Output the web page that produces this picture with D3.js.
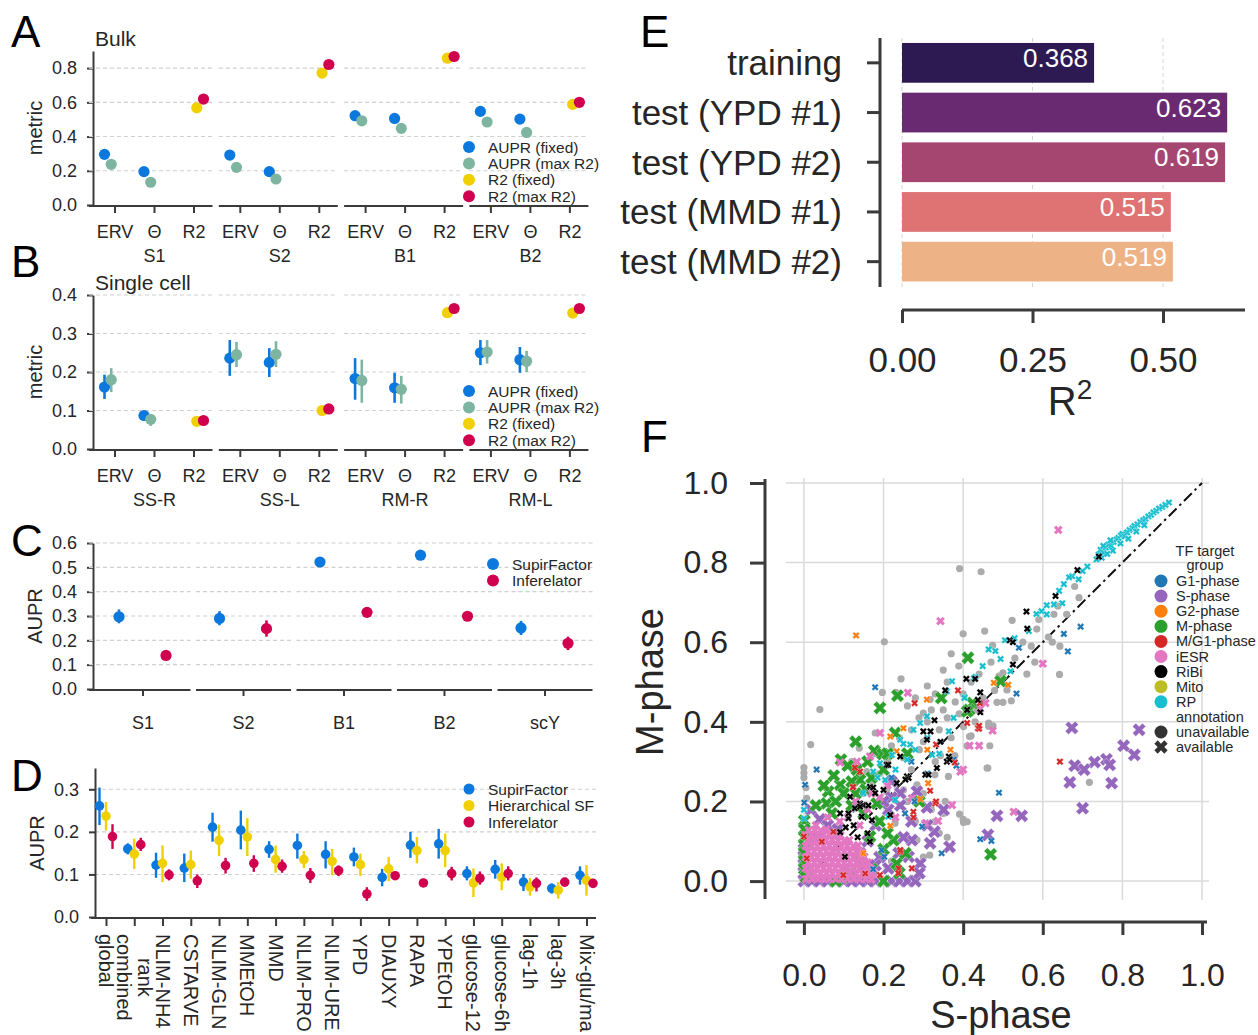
<!DOCTYPE html>
<html><head><meta charset="utf-8">
<script src="https://cdn.jsdelivr.net/npm/d3@7/dist/d3.min.js"></script>
<style>html,body{margin:0;padding:0;background:#fff;overflow:hidden}</style>
</head><body>
<svg id="fig" width="1258" height="1035" xmlns="http://www.w3.org/2000/svg"></svg>
<script>
// ================= DATA =================
// Panels A / B
const metricCats = ["ERV","Θ","R2"];
const metricHues = ["AUPR (fixed)","AUPR (max R2)","R2 (fixed)","R2 (max R2)"];
const metricColors = ["#0a78dc","#7db5a0","#f0d000","#d0004e"];

const bulkGroups = ["S1","S2","B1","B2"];
const bulkAuprFixed   = [[0.296,0.195],[0.292,0.195],[0.522,0.506],[0.547,0.502]];
const bulkAuprFixedLo = [[0.285,0.178],[0.280,0.180],[0.512,0.495],[0.537,0.492]];
const bulkAuprFixedHi = [[0.308,0.212],[0.305,0.210],[0.532,0.516],[0.557,0.512]];
const bulkAuprMax     = [[0.238,0.133],[0.220,0.152],[0.492,0.448],[0.485,0.424]];
const bulkAuprMaxLo   = [[0.228,0.122],[0.195,0.142],[0.482,0.438],[0.472,0.410]];
const bulkAuprMaxHi   = [[0.248,0.145],[0.245,0.162],[0.502,0.458],[0.498,0.437]];
const bulkR2Fixed     = [0.568,0.771,0.858,0.588];
const bulkR2Max       = [0.619,0.821,0.868,0.600];

const scGroups = ["SS-R","SS-L","RM-R","RM-L"];
const scAuprFixed   = [[0.161,0.087],[0.236,0.225],[0.183,0.159],[0.250,0.232]];
const scAuprFixedLo = [[0.130,0.080],[0.190,0.187],[0.128,0.120],[0.218,0.198]];
const scAuprFixedHi = [[0.193,0.095],[0.283,0.262],[0.236,0.198],[0.283,0.265]];
const scAuprMax     = [[0.180,0.077],[0.245,0.246],[0.178,0.155],[0.252,0.228]];
const scAuprMaxLo   = [[0.148,0.060],[0.213,0.213],[0.120,0.118],[0.222,0.200]];
const scAuprMaxHi   = [[0.210,0.090],[0.278,0.280],[0.232,0.190],[0.283,0.255]];
const scR2Fixed     = [0.072,0.100,0.354,0.353];
const scR2Max       = [0.074,0.104,0.365,0.365];

// Panel C
const crossGroups  = ["S1","S2","B1","B2","scY"];
const crossHues    = ["SupirFactor","Inferelator"];
const crossColors  = ["#0a78dc","#d0004e"];
const crossSupir   = [0.297,0.290,0.522,0.550,0.251];
const crossSupirLo = [0.270,0.262,0.502,0.538,0.222];
const crossSupirHi = [0.327,0.320,0.540,0.562,0.280];
const crossInfer   = [0.138,0.248,0.315,0.299,0.188];
const crossInferLo = [0.125,0.215,0.295,0.287,0.160];
const crossInferHi = [0.150,0.282,0.335,0.312,0.215];

// Panel D
const condCats = ["global","combined rank","NLIM-NH4","CSTARVE","NLIM-GLN","MMEtOH","MMD","NLIM-PRO","NLIM-URE","YPD","DIAUXY","RAPA","YPEtOH","glucose-12","glucose-6h","lag-1h","lag-3h","Mix-glu/ma"];
const condHues   = ["SupirFactor","Hierarchical SF","Inferelator"];
const condColors = ["#0a78dc","#f0d000","#d0004e"];
const condSupir    = [0.261,0.160,0.122,0.115,0.211,0.204,0.159,0.168,0.147,0.141,0.093,0.169,0.172,0.102,0.112,0.082,0.067,0.098];
const condSupirLo  = [0.216,0.147,0.092,0.082,0.177,0.159,0.139,0.137,0.114,0.119,0.072,0.139,0.137,0.086,0.090,0.061,0.055,0.076];
const condSupirHi  = [0.304,0.173,0.151,0.149,0.245,0.250,0.178,0.196,0.178,0.163,0.113,0.200,0.207,0.119,0.134,0.101,0.079,0.119];
const condHier     = [0.237,0.148,0.126,0.123,0.180,0.188,0.135,0.135,0.131,0.123,0.113,0.156,0.156,0.080,0.094,0.071,0.063,0.086];
const condHierLo   = [0.203,0.113,0.082,0.090,0.143,0.143,0.104,0.115,0.098,0.096,0.084,0.126,0.117,0.047,0.063,0.050,0.043,0.050];
const condHierHi   = [0.270,0.184,0.168,0.156,0.217,0.232,0.168,0.155,0.160,0.149,0.141,0.188,0.196,0.114,0.126,0.092,0.082,0.122];
const condInfer    = [0.189,0.170,0.099,0.085,0.121,0.126,0.119,0.098,0.109,0.054,0.097,0.080,0.102,0.091,0.102,0.079,0.082,0.079];
const condInferLo  = [0.160,0.155,0.086,0.068,0.102,0.106,0.104,0.080,0.096,0.038,0.092,0.071,0.086,0.076,0.086,0.060,0.072,0.070];
const condInferHi  = [0.218,0.186,0.112,0.100,0.139,0.145,0.135,0.115,0.121,0.070,0.102,0.090,0.118,0.107,0.119,0.093,0.092,0.086];

// Panel E
const r2Cats   = ["training","test (YPD #1)","test (YPD #2)","test (MMD #1)","test (MMD #2)"];
const r2Values = [0.368,0.623,0.619,0.515,0.519];
const r2Colors = ["#2d1a53","#6a2a71","#a4466f","#df7272","#eeb287"];
const r2Ticks  = [0.00,0.25,0.50];

// Panel F  (S-phase, M-phase) pairs
const fTicks = [0.0,0.2,0.4,0.6,0.8,1.0];
const fGroups = ["G1-phase","S-phase","G2-phase","M-phase","M/G1-phase","iESR","RiBi","Mito","RP"];
const fColors = ["#1f77b4","#9467bd","#ff7f0e","#2ca02c","#d62728","#e377c2","#000000","#bcbd22","#17becf"];
const fUnavailable = [[0.391,0.785],[0.445,0.777],[0.68,0.74],[0.691,0.712],[0.638,0.691],[0.628,0.67],[0.66,0.67],[0.59,0.657],[0.585,0.633],[0.523,0.655],[0.454,0.628],[0.40,0.621],[0.474,0.592],[0.614,0.613],[0.624,0.60],[0.643,0.59],[0.571,0.59],[0.58,0.55],[0.642,0.519],[0.50,0.523],[0.49,0.515],[0.479,0.479],[0.485,0.449],[0.50,0.449],[0.521,0.453],[0.51,0.48],[0.464,0.397],[0.475,0.39],[0.43,0.40],[0.717,0.248],[0.462,0.284],[0.467,0.34],[0.41,0.34],[0.42,0.365],[0.464,0.389],[0.401,0.147],[0.40,0.155],[0.202,0.601],[0.244,0.508],[0.197,0.474],[0.231,0.474],[0.04,0.431],[0.017,0.343],[0,0.285],[0,0.272],[0,0.26],[0.007,0.208],[0.005,0.235],[0.37,0.571],[0.389,0.54],[0.317,0.456],[0.30,0.422],[0.289,0.41],[0.179,0.372],[0.139,0.334],[0.401,0.388],[0.416,0.363],[0.379,0.315],[0.343,0.315],[0.46,0.284],[0.363,0.263],[0.329,0.267],[0.391,0.168],[0.35,0.17],[0.328,0.149],[0.41,0.149],[0.284,0.103],[0.316,0.065],[0.259,0.0],[0.156,0.0],[0.229,0.145],[0.25,0.229],[0.284,0.242],[0.355,0.20],[0.208,0.225],[0.158,0.275],[0.26,0.44],[0.28,0.46],[0.33,0.47],[0.35,0.43],[0.31,0.40],[0.27,0.38],[0.24,0.36],[0.22,0.34],[0.30,0.35],[0.34,0.38],[0.36,0.41],[0.38,0.45],[0.40,0.47],[0.42,0.50],[0.44,0.52],[0.36,0.50],[0.32,0.43],[0.25,0.31],[0.21,0.30],[0.19,0.27],[0.27,0.28],[0.33,0.30],[0.37,0.36],[0.43,0.43],[0.45,0.46],[0.39,0.42],[0.29,0.33],[0.23,0.25],[0.15,0.22],[0.17,0.25],[0.12,0.30],[0.26,0.20],[0.30,0.22],[0.32,0.18],[0.28,0.15],[0.34,0.12],[0.36,0.11],[0.30,0.06],[0.22,0.05],[0.35,0.53],[0.31,0.49],[0.53,0.56],[0.55,0.60],[0.47,0.55],[0.56,0.52],[0.18,0.32],[0.14,0.26]];
const fG1 = [[0.695,0.639],[0.653,0.621],[0.663,0.577],[0.54,0.586],[0.534,0.471],[0.49,0.222],[0.443,0.105],[0.471,0.101],[0.032,0.28],[0.003,0.242],[0.001,0.197],[0.179,0.487],[0.278,0.20],[0.254,0.17],[0.297,0.137],[0.346,0.07],[0.376,0.305],[0.383,0.29],[0.202,0.061],[0.174,0.03],[0.195,0.078],[0.22,0.26],[0.27,0.30],[0.31,0.27]];
const fS = [[0.673,0.385],[0.842,0.38],[0.803,0.34],[0.83,0.317],[0.76,0.306],[0.768,0.292],[0.73,0.299],[0.68,0.29],[0.704,0.28],[0.668,0.248],[0.773,0.246],[0.70,0.183],[0.485,0.164],[0.547,0.164],[0.462,0.116],[0.018,0.179],[0.284,0.225],[0.309,0.185],[0.351,0.179],[0.242,0.221],[0.22,0.21],[0.328,0.124],[0.317,0.095],[0.366,0.086],[0.271,0.103],[0.292,0.044],[0.212,0.032],[0.263,0.061],[0.238,0.07],[0.141,0.07],[0.133,0.187],[0.212,0.179],[0.242,0.19],[0.18,0.0],[0.20,0.0],[0.22,0.0],[0.24,0.0],[0.26,0.0],[0.28,0.0],[0.16,0.0],[0.14,0.0],[0.0,0.0],[0.0,0.02],[0.0,0.04],[0.0,0.06],[0.0,0.08],[0.02,0.0],[0.04,0.0],[0.06,0.0],[0.08,0.0],[0.10,0.0],[0.12,0.0],[0.04,0.155],[0.06,0.14],[0.18,0.14],[0.16,0.10],[0.19,0.06],[0.27,0.15],[0.31,0.14],[0.22,0.25],[0.20,0.20],[0.25,0.11],[0.18,0.04],[0.03,0.11],[0.085,0.13],[0.15,0.04],[0.29,0.02]];
const fG2 = [[0.131,0.617],[0.25,0.384],[0.217,0.363],[0.309,0.456],[0.368,0.33],[0.312,0.246],[0.292,0.206],[0.217,0.139],[0.233,0.326],[0.477,0.498],[0.513,0.493],[0.149,0.07],[0.31,0.33]];
const fM = [[0.412,0.561],[0.494,0.502],[0.345,0.46],[0.424,0.447],[0.415,0.43],[0.41,0.426],[0.191,0.435],[0.235,0.466],[0.229,0.372],[0.177,0.327],[0.093,0.305],[0.198,0.319],[0.133,0.28],[0.091,0.242],[0.061,0.225],[0.225,0.103],[0.469,0.067],[0.001,0.152],[0.057,0.195],[0.141,0.254],[0.183,0.195],[0.166,0.112],[0.233,0.044],[0.116,0.023],[0.001,0.13],[0.001,0.11],[0.001,0.09],[0.001,0.07],[0.001,0.05],[0.001,0.03],[0.005,0.01],[0.03,0.19],[0.05,0.24],[0.075,0.265],[0.11,0.29],[0.12,0.25],[0.10,0.22],[0.08,0.20],[0.13,0.22],[0.155,0.23],[0.17,0.26],[0.20,0.28],[0.21,0.32],[0.16,0.30],[0.07,0.17],[0.12,0.19],[0.15,0.17],[0.19,0.15],[0.21,0.12],[0.20,0.08],[0.14,0.06],[0.17,0.03],[0.10,0.01],[0.24,0.02],[0.255,0.07],[0.29,0.20],[0.26,0.32],[0.13,0.35],[0.08,0.0],[0.20,0.0]];
const fMG1 = [[0.124,0.237],[0.33,0.195],[0.275,0.174],[0.242,0.074],[0.238,0.032],[0.237,0.02],[0.191,0.015],[0.099,0.015],[0,0.112],[0.007,0.057],[0.045,0.099],[0.074,0.124],[0.141,0.275],[0.278,0.447],[0.387,0.479],[0.437,0.384],[0.332,0.343],[0.379,0.298],[0.317,0.227],[0.332,0.20],[0.275,0.16],[0.128,0.285],[0.123,0.236],[0.242,0.078],[0.154,0.019],[0.271,0.032],[0.643,0.30],[0.44,0.383],[0.41,0.397],[0.442,0.447],[0.44,0.39]];
const fiESR = [[0.005,0.005],[0.02,0.005],[0.035,0.005],[0.05,0.005],[0.065,0.005],[0.08,0.005],[0.095,0.005],[0.11,0.005],[0.125,0.005],[0.14,0.005],[0.155,0.005],[0.17,0.004],
[0.012,0.018],[0.027,0.019],[0.042,0.018],[0.057,0.02],[0.072,0.018],[0.087,0.019],[0.102,0.018],[0.117,0.02],[0.132,0.018],[0.147,0.019],[0.162,0.018],[0.175,0.02],
[0.004,0.032],[0.019,0.033],[0.034,0.031],[0.049,0.032],[0.064,0.034],[0.079,0.032],[0.094,0.031],[0.109,0.033],[0.124,0.032],[0.139,0.031],[0.154,0.033],[0.168,0.032],
[0.011,0.046],[0.026,0.047],[0.041,0.045],[0.056,0.046],[0.071,0.048],[0.086,0.046],[0.101,0.045],[0.116,0.047],[0.131,0.046],[0.146,0.045],[0.16,0.047],
[0.004,0.06],[0.019,0.061],[0.034,0.059],[0.049,0.06],[0.064,0.062],[0.079,0.06],[0.094,0.059],[0.109,0.061],[0.124,0.06],[0.139,0.059],[0.152,0.061],
[0.011,0.074],[0.026,0.075],[0.041,0.073],[0.056,0.074],[0.071,0.076],[0.086,0.074],[0.101,0.073],[0.116,0.075],[0.131,0.074],[0.144,0.073],
[0.004,0.088],[0.019,0.089],[0.034,0.087],[0.049,0.088],[0.064,0.09],[0.079,0.088],[0.094,0.087],[0.109,0.089],[0.124,0.088],[0.136,0.09],
[0.011,0.102],[0.026,0.103],[0.041,0.101],[0.056,0.102],[0.071,0.104],[0.086,0.102],[0.101,0.101],[0.114,0.103],
[0.004,0.116],[0.019,0.117],[0.034,0.115],[0.049,0.116],[0.064,0.118],[0.079,0.116],[0.092,0.115],
[0.012,0.128],[0.027,0.129],[0.042,0.127],[0.056,0.13],
[0.639,0.882],[0.60,0.546],[0.456,0.447],[0.443,0.433],[0.527,0.174],[0.416,0.34],[0.44,0.34],[0.474,0.378],[0.40,0.28],[0.343,0.653],[0.261,0.473],[0.191,0.372],[0.133,0.30],[0.091,0.298],[0.393,0.275],[0.372,0.191],[0.337,0.151],[0.305,0.145],[0.271,0.208],[0.166,0.313],[0.13,0.20],[0.16,0.18],[0.19,0.21],[0.11,0.16],[0.14,0.14],[0.09,0.15],[0.21,0.24],[0.23,0.16],[0.17,0.22],[0.03,0.14],[0.06,0.16]];
const fRiBi = [[0.741,0.815],[0.687,0.781],[0.632,0.716],[0.559,0.677],[0.561,0.634],[0.517,0.605],[0.525,0.60],[0.525,0.544],[0.408,0.508],[0.43,0.508],[0.443,0.474],[0.437,0.455],[0.443,0.424],[0.41,0.43],[0.208,0.292],[0.259,0.263],[0.305,0.267],[0.334,0.284],[0.359,0.30],[0.166,0.237],[0.174,0.235],[0.141,0.195],[0.149,0.19],[0.128,0.183],[0.091,0.17],[0.112,0.158],[0.171,0.153],[0.217,0.166],[0.16,0.12],[0.091,0.123],[0.166,0.099],[0.116,0.212],[0.242,0.313],[0.212,0.292],[0.30,0.376],[0.318,0.376],[0.309,0.355],[0.355,0.479],[0.328,0.404],[0.343,0.35],[0.364,0.313],[0.366,0.305],[0.313,0.267],[0.263,0.259],[0.255,0.255],[0.233,0.246],[0.20,0.229],[0.179,0.221],[0.149,0.191],[0.162,0.19],[0.145,0.162],[0.112,0.17],[0.103,0.061],[0.141,0.187],[0.125,0.14],[0.135,0.11],[0.105,0.135]];
const fMito = [];
const fRP = [[0.735,0.808],[0.74,0.82],[0.745,0.832],[0.752,0.825],[0.758,0.838],[0.765,0.845],[0.772,0.842],[0.778,0.852],[0.785,0.858],[0.79,0.862],[0.796,0.868],[0.80,0.872],[0.806,0.866],[0.812,0.876],[0.818,0.882],[0.825,0.886],[0.83,0.892],[0.838,0.896],[0.845,0.902],[0.852,0.906],[0.858,0.91],[0.865,0.916],[0.872,0.92],[0.878,0.926],[0.885,0.93],[0.892,0.936],[0.90,0.94],[0.908,0.945],[0.917,0.951],[0.776,0.83],[0.815,0.86],[0.835,0.878],[0.855,0.894],[0.795,0.848],[0.752,0.842],[0.77,0.856],[0.748,0.812],[0.762,0.822],[0.712,0.79],[0.70,0.779],[0.69,0.758],[0.674,0.766],[0.666,0.763],[0.653,0.746],[0.641,0.729],[0.649,0.698],[0.628,0.695],[0.61,0.693],[0.597,0.678],[0.584,0.671],[0.61,0.67],[0.565,0.628],[0.529,0.61],[0.505,0.605],[0.481,0.578],[0.464,0.582],[0.494,0.558],[0.449,0.54],[0.519,0.527],[0.431,0.513],[0.404,0.462],[0.309,0.414],[0.292,0.397],[0.275,0.38],[0.267,0.343],[0.221,0.317],[0.191,0.296],[0.174,0.275],[0.166,0.237],[0.149,0.221],[0.204,0.254],[0,0.179],[0,0.157],[0.359,0.477],[0.376,0.41],[0.322,0.317],[0.34,0.32],[0.242,0.355],[0.25,0.345],[0.259,0.305],[0.229,0.204],[0.212,0.162],[0.372,0.502],[0.427,0.51],[0.403,0.46],[0.364,0.376],[0.28,0.33],[0.31,0.36],[0.185,0.26],[0.23,0.28]];
const fDiagonal = [[0,0],[1,1]];

// ================= DRAWING =================
const FONT = "'Liberation Sans', Arial, sans-serif";
const ink = "#262626", axisCol = "#3a3a3a", gridCol = "#d0d0d0";
const svg = d3.select("#fig").attr("font-family", FONT);
svg.append("rect").attr("width",1258).attr("height",1035).attr("fill","#fff");

function styleAxis(sel, fs, sw){
  sel.selectAll("text").attr("font-size",fs).attr("fill",ink).attr("font-family",FONT);
  sel.selectAll("line").attr("stroke",axisCol).attr("stroke-width",sw||2);
  sel.select(".domain").attr("stroke",axisCol).attr("stroke-width",sw||2);
}
function txt(x,y,s,fs,opt){
  opt = opt||{};
  const t = svg.append("text").attr("x",x).attr("y",y).attr("font-size",fs).attr("fill",opt.fill||ink)
    .attr("text-anchor",opt.anchor||"start").text(s);
  if(opt.central) t.attr("dominant-baseline","central");
  if(opt.rot) t.attr("transform",`rotate(${opt.rot},${x},${y})`);
  return t;
}
function letter(s,x,y){ txt(x,y,s,44,{fill:"#000"}); }
function errBar(g,x,y,lo,hi,col,w){
  g.append("line").attr("x1",x).attr("x2",x).attr("y1",y(lo)).attr("y2",y(hi)).attr("stroke",col).attr("stroke-width",w||2.6);
}
function legend(x,y0,dy,labels,colors,r,fs){
  labels.forEach((l,i)=>{
    svg.append("circle").attr("cx",x).attr("cy",y0+i*dy).attr("r",r).attr("fill",colors[i]);
    txt(x+19,y0+i*dy,l,fs,{central:true});
  });
}

// ---- Panels A & B ----
function metricPanel(o){
  const g = svg.append("g");
  const y = o.y;
  const ya = g.append("g").attr("transform","translate(93,0)")
    .call(d3.axisLeft(y).tickValues(o.yTicks).tickFormat(d3.format(".1f")).tickSize(6).tickPadding(10).tickSizeOuter(0));
  styleAxis(ya,18);
  txt(35,(y(0)+y.range()[1])/2,"metric",20,{anchor:"middle",central:true,rot:-90});
  txt(95,o.titleY,o.title,21);
  const dodge = [-10,-3.3,3.3,10];
  o.groups.forEach((grp,gi)=>{
    const c = 154.5 + gi*125.3;
    const left = gi===0 ? 89 : c-61, right = c+58;
    o.yTicks.filter(t=>t>0).forEach(t=>{
      g.append("line").attr("x1",left).attr("x2",right).attr("y1",y(t)).attr("y2",y(t))
        .attr("stroke",gridCol).attr("stroke-width",1.1).attr("stroke-dasharray","4,3");
    });
    const x = d3.scalePoint().domain(metricCats).range([c-40,c+39]);
    const xa = g.append("g").attr("transform",`translate(0,${y(0)+1})`)
      .call(d3.axisBottom(x).tickSize(7).tickPadding(12).tickSizeOuter(0));
    xa.select(".domain").remove();
    styleAxis(xa,18);
    g.append("line").attr("x1",left).attr("x2",right).attr("y1",y(0)+1).attr("y2",y(0)+1).attr("stroke",axisCol).attr("stroke-width",2);
    txt(c,y(0)+51,grp,18,{anchor:"middle",central:true});
    const pts = [];
    [0,1].forEach(ci=>{
      pts.push({x:x(metricCats[ci])+dodge[0],v:o.af[gi][ci],lo:o.afLo[gi][ci],hi:o.afHi[gi][ci],h:0});
      pts.push({x:x(metricCats[ci])+dodge[1],v:o.am[gi][ci],lo:o.amLo[gi][ci],hi:o.amHi[gi][ci],h:1});
    });
    pts.push({x:x("R2")+dodge[2],v:o.rf[gi],h:2});
    pts.push({x:x("R2")+dodge[3],v:o.rm[gi],h:3});
    [0,1,2,3].forEach(h=>{
      pts.filter(p=>p.h===h).forEach(p=>{
        if(p.lo!=null) errBar(g,p.x,y,p.lo,p.hi,metricColors[h]);
        g.append("circle").attr("cx",p.x).attr("cy",y(p.v)).attr("r",5.6).attr("fill",metricColors[h]);
      });
    });
  });
  legend(469,y(0)-58,16.4,metricHues,metricColors,6,15.5);
}
const yA = d3.scaleLinear().domain([0,0.9]).range([205,51]);
metricPanel({y:yA,yTicks:[0,0.2,0.4,0.6,0.8],groups:bulkGroups,title:"Bulk",titleY:46,
  af:bulkAuprFixed,afLo:bulkAuprFixedLo,afHi:bulkAuprFixedHi,am:bulkAuprMax,amLo:bulkAuprMaxLo,amHi:bulkAuprMaxHi,rf:bulkR2Fixed,rm:bulkR2Max});
const yB = d3.scaleLinear().domain([0,0.4]).range([449,295]);
metricPanel({y:yB,yTicks:[0,0.1,0.2,0.3,0.4],groups:scGroups,title:"Single cell",titleY:290,
  af:scAuprFixed,afLo:scAuprFixedLo,afHi:scAuprFixedHi,am:scAuprMax,amLo:scAuprMaxLo,amHi:scAuprMaxHi,rf:scR2Fixed,rm:scR2Max});
letter("A",11,47); letter("B",11,277);

// ---- Panel C ----
(function(){
  const g = svg.append("g");
  const y = d3.scaleLinear().domain([0,0.6]).range([689,543]);
  const ya = g.append("g").attr("transform","translate(93,0)")
    .call(d3.axisLeft(y).tickValues([0,0.1,0.2,0.3,0.4,0.5,0.6]).tickFormat(d3.format(".1f")).tickSize(6).tickPadding(10).tickSizeOuter(0));
  styleAxis(ya,18);
  txt(35,616,"AUPR",20,{anchor:"middle",central:true,rot:-90});
  const x = d3.scalePoint().domain(crossGroups).range([142.5,544.5]);
  crossGroups.forEach((grp,gi)=>{
    const c = x(grp);
    const left = gi===0 ? 89 : c-47, right = c+48;
    [0.1,0.2,0.3,0.4,0.5,0.6].forEach(t=>{
      g.append("line").attr("x1",left).attr("x2",right).attr("y1",y(t)).attr("y2",y(t))
        .attr("stroke",gridCol).attr("stroke-width",1.1).attr("stroke-dasharray","4,3");
    });
    g.append("line").attr("x1",left).attr("x2",right).attr("y1",y(0)+1).attr("y2",y(0)+1).attr("stroke",axisCol).attr("stroke-width",2);
  });
  const xa = g.append("g").attr("transform",`translate(0,${y(0)+1})`)
    .call(d3.axisBottom(x).tickSize(6).tickPadding(20).tickSizeOuter(0));
  xa.select(".domain").remove();
  styleAxis(xa,18);
  const series = [[crossSupir,crossSupirLo,crossSupirHi,-23.5],[crossInfer,crossInferLo,crossInferHi,23.5]];
  series.forEach((s,h)=>{
    crossGroups.forEach((grp,gi)=>{
      const px = x(grp)+s[3];
      errBar(g,px,y,s[1][gi],s[2][gi],crossColors[h]);
      g.append("circle").attr("cx",px).attr("cy",y(s[0][gi])).attr("r",5.6).attr("fill",crossColors[h]);
    });
  });
  legend(493,564,16.4,crossHues,crossColors,6,15.5);
})();
letter("C",11,556);

// ---- Panel D ----
(function(){
  const g = svg.append("g");
  const y = d3.scaleLinear().domain([0,0.35]).range([917,768]);
  [0.1,0.2,0.3].forEach(t=>{
    g.append("line").attr("x1",95).attr("x2",596).attr("y1",y(t)).attr("y2",y(t))
      .attr("stroke",gridCol).attr("stroke-width",1.1).attr("stroke-dasharray","4,3");
  });
  const ya = g.append("g").attr("transform","translate(95,0)")
    .call(d3.axisLeft(y).tickValues([0,0.1,0.2,0.3]).tickFormat(d3.format(".1f")).tickSize(6).tickPadding(10).tickSizeOuter(0));
  styleAxis(ya,18);
  txt(37,843,"AUPR",20,{anchor:"middle",central:true,rot:-90});
  const x = d3.scalePoint().domain(condCats).range([106,586.5]);
  const xa = g.append("g").attr("transform",`translate(0,${y(0)+1})`)
    .call(d3.axisBottom(x).tickSize(8).tickFormat("").tickSizeOuter(0));
  xa.select(".domain").remove();
  styleAxis(xa,18);
  g.append("line").attr("x1",91).attr("x2",596).attr("y1",y(0)+1).attr("y2",y(0)+1).attr("stroke",axisCol).attr("stroke-width",2);
  condCats.forEach(c=>{
    const cx = x(c);
    const parts = c.split(" ");
    if(parts.length===1){
      g.append("text").attr("transform",`translate(${cx},934) rotate(90)`).attr("dominant-baseline","central")
        .attr("font-size",20).attr("fill",ink).text(c);
    } else {
      const t1 = g.append("text").attr("transform",`translate(${cx-10.5},934) rotate(90)`).attr("dominant-baseline","central")
        .attr("font-size",20).attr("fill",ink).text(parts[0]);
      const L = t1.node().getComputedTextLength();
      g.append("text").attr("transform",`translate(${cx+10.5},${934+L/2}) rotate(90)`).attr("dominant-baseline","central")
        .attr("text-anchor","middle").attr("font-size",20).attr("fill",ink).text(parts[1]);
    }
  });
  const series = [[condSupir,condSupirLo,condSupirHi,-6.5],[condHier,condHierLo,condHierHi,0],[condInfer,condInferLo,condInferHi,6.5]];
  series.forEach((s,h)=>{
    condCats.forEach((c,i)=>{
      const px = x(c)+s[3];
      errBar(g,px,y,s[1][i],s[2][i],condColors[h],2.4);
      g.append("circle").attr("cx",px).attr("cy",y(s[0][i])).attr("r",4.8).attr("fill",condColors[h]);
    });
  });
  legend(469,789,16.5,condHues,condColors,5.5,15.5);
})();
letter("D",11,791);

// ---- Panel E ----
(function(){
  const g = svg.append("g");
  const x = d3.scaleLinear().domain([0,0.66]).range([902,1246.5]);
  const y = d3.scaleBand().domain(r2Cats).range([38,286.5]).paddingInner(0.2).paddingOuter(0.1);
  [0,0.25,0.5].forEach(t=>{
    g.append("line").attr("x1",x(t)).attr("x2",x(t)).attr("y1",38).attr("y2",287)
      .attr("stroke","#d6d6d6").attr("stroke-width",1).attr("stroke-dasharray","4,3");
  });
  r2Cats.forEach((c,i)=>{
    g.append("rect").attr("x",x(0)).attr("y",y(c)).attr("width",x(r2Values[i])-x(0)).attr("height",y.bandwidth()).attr("fill",r2Colors[i]);
    g.append("text").attr("x",x(r2Values[i])-6).attr("y",y(c)+y.bandwidth()/2-5).attr("text-anchor","end")
      .attr("dominant-baseline","central").attr("font-size",26).attr("fill","#fff").text(d3.format(".3f")(r2Values[i]));
  });
  const ya = g.append("g").attr("transform","translate(880,0)")
    .call(d3.axisLeft(y).tickSize(13).tickPadding(25).tickSizeOuter(0));
  styleAxis(ya,35,3);
  ya.select(".domain").attr("d","M0,38V287");
  ya.selectAll("text").attr("dominant-baseline","central").attr("dy",null);
  const xa = g.append("g").attr("transform","translate(0,310)")
    .call(d3.axisBottom(x).tickValues(r2Ticks).tickFormat(d3.format(".2f")).tickSize(13).tickPadding(24).tickSizeOuter(0));
  styleAxis(xa,35,3);
  xa.select(".domain").attr("d","M902,0H1245");
  const rl = g.append("text").attr("x",1070).attr("y",415).attr("text-anchor","middle").attr("font-size",40).attr("fill",ink);
  rl.append("tspan").text("R");
  rl.append("tspan").attr("dy",-16).attr("font-size",28).text("2");
})();
letter("E",640,47);

// ---- Panel F ----
(function(){
  const g = svg.append("g");
  const x = d3.scaleLinear().domain([-0.045,1.0125]).range([786,1207]);
  const y = d3.scaleLinear().domain([-0.045,1.0125]).range([899,478]);
  fTicks.forEach(t=>{
    g.append("line").attr("x1",x(t)).attr("x2",x(t)).attr("y1",478).attr("y2",900).attr("stroke","#dadada").attr("stroke-width",1.5);
    g.append("line").attr("x1",786).attr("x2",1209).attr("y1",y(t)).attr("y2",y(t)).attr("stroke","#dadada").attr("stroke-width",1.5);
  });
  const ya = g.append("g").attr("transform","translate(765,0)")
    .call(d3.axisLeft(y).tickValues(fTicks).tickFormat(d3.format(".1f")).tickSize(15).tickPadding(22).tickSizeOuter(0));
  styleAxis(ya,32,3);
  ya.select(".domain").attr("d","M0,479V899");
  const xa = g.append("g").attr("transform","translate(0,922)")
    .call(d3.axisBottom(x).tickValues(fTicks).tickFormat(d3.format(".1f")).tickSize(13).tickPadding(28).tickSizeOuter(0));
  styleAxis(xa,32,3);
  xa.select(".domain").attr("d","M786,0H1207");
  txt(650,682,"M-phase",38,{anchor:"middle",central:true,rot:-90});
  txt(1001,1015,"S-phase",38,{anchor:"middle",central:true});

  g.append("path").attr("d",d3.line().x(d=>x(d[0])).y(d=>y(d[1]))(fDiagonal))
    .attr("stroke","#111").attr("stroke-width",2).attr("fill","none").attr("stroke-dasharray","11,4,2.5,4");

  const cross = (s)=>d3.symbol().type(d3.symbolCross).size(s)();
  const small = cross(32), big = cross(110), pinkM = cross(48);
  g.selectAll("circle.un").data(fUnavailable).join("circle").attr("class","un")
    .attr("cx",d=>x(d[0])).attr("cy",d=>y(d[1])).attr("r",3.6).attr("fill","#ababab");
  const layers = [[fS,1,big,0.35],[fM,3,big,0.35],[fiESR,5,pinkM,0],[fG1,0,small,0.3],[fG2,2,small,0.3],[fMG1,4,small,0.3],[fMito,7,small,0.3],[fRP,8,small,0.3],[fRiBi,6,small,0.3]];
  layers.forEach(([arr,ci,path,sw])=>{
    g.append("g").selectAll("path").data(arr).join("path")
      .attr("d",path).attr("transform",d=>`translate(${x(d[0])},${y(d[1])}) rotate(45)`)
      .attr("fill",fColors[ci]).attr("stroke",sw?"#fff":"none").attr("stroke-width",sw);
  });

  // legend
  txt(1205,551,"TF target",14.5,{anchor:"middle",central:true});
  txt(1205,565,"group",14.5,{anchor:"middle",central:true});
  fGroups.forEach((l,i)=>{
    const yy = 581+i*15.1;
    svg.append("circle").attr("cx",1161).attr("cy",yy).attr("r",6.5).attr("fill",fColors[i]);
    txt(1176,yy,l,14.5,{central:true});
  });
  txt(1176,717,"annotation",14.5,{central:true});
  svg.append("circle").attr("cx",1161).attr("cy",732).attr("r",6.5).attr("fill","#333");
  txt(1176,732,"unavailable",14.5,{central:true});
  svg.append("path").attr("d",big).attr("transform","translate(1161,747) rotate(45)").attr("fill","#333");
  txt(1176,747,"available",14.5,{central:true});
})();
letter("F",641,452);
</script>
</body></html>
